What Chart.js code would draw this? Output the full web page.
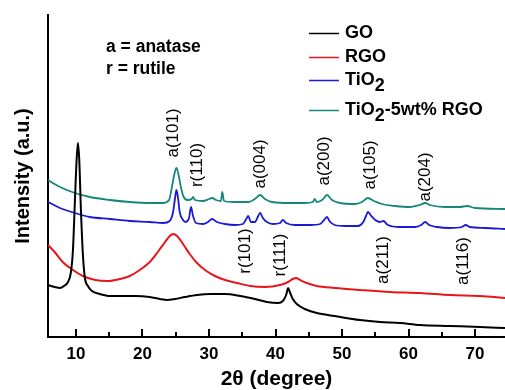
<!DOCTYPE html>
<html>
<head>
<meta charset="utf-8">
<title>XRD patterns</title>
<script src="https://cdn.jsdelivr.net/npm/chart.js@4/dist/chart.umd.min.js"></script>
<style>
  html, body { margin: 0; padding: 0; background: #fff; }
  #wrap { width: 505px; height: 390px; }
</style>
</head>
<body>
<div id="wrap"><canvas id="xrd" width="505" height="390"></canvas></div>
<script>
// 2theta (deg) / intensity (a.u.) pairs for each pattern
const goTheta = [5.8, 6.8, 7.6, 8.2, 8.8, 9.25, 9.55, 9.85, 10.1, 10.3, 10.5, 10.75, 11.05, 11.35, 11.8, 12.4, 13.6, 15.1, 17.1, 18.9, 21.1, 22.6, 23.7, 24.9, 26.4, 28.2, 30.2, 32.4, 34.7, 36.9, 38.7, 40.4, 41.1, 41.6, 41.9, 42.2, 42.6, 43.2, 44.4, 46.2, 48.9, 52.7, 55.7, 58.7, 61.7, 66.2, 70.75, 74.5];
const goInt = [52, 50, 49, 51, 55, 65, 87, 137, 177, 194, 177, 127, 82, 59, 51, 46, 43, 41, 41, 41, 40, 38, 37, 38, 40, 42, 43, 43, 41, 38, 35, 34, 36, 42, 49, 44, 38, 33, 28, 24, 21, 17, 15, 14, 12, 11, 10, 9];

const rgoTheta = [5.8, 6.8, 8.0, 9.55, 11.05, 12.9, 14.7, 16.6, 18.1, 19.6, 21.1, 22.3, 23.4, 24.1, 24.6, 25.2, 26.1, 27.1, 28.2, 29.4, 30.9, 32.4, 34.2, 36.2, 38.4, 40.7, 41.9, 42.6, 43.1, 43.7, 44.7, 46.2, 48.9, 52.7, 57.2, 61.7, 66.2, 70.75, 74.5];
const rgoInt = [92, 85, 75, 67, 61, 57, 56, 58, 61, 67, 75, 85, 95, 101, 103, 101, 93, 83, 74, 67, 61, 57, 54, 51, 50, 52, 55, 58, 59, 57, 54, 51, 49, 47, 45, 44, 42, 41, 39];

const tioTheta = [5.8, 7.6, 9.85, 12.1, 15.1, 18.1, 21.1, 23.1, 24.1, 24.6, 24.9, 25.1, 25.35, 25.6, 26.1, 26.5, 27.0, 27.3, 27.6, 28.05, 29.1, 29.85, 30.45, 31.2, 32.4, 33.9, 35.1, 35.6, 35.9, 36.3, 36.9, 37.4, 37.7, 38.1, 38.7, 39.6, 40.7, 41.1, 41.6, 42.9, 45.2, 46.7, 47.3, 47.75, 48.1, 48.9, 50.5, 52.4, 53.2, 53.6, 53.9, 54.4, 55.0, 55.7, 56.2, 56.9, 58.7, 61.0, 61.9, 62.5, 63.1, 64.3, 66.2, 68.0, 68.6, 69.2, 71.5, 74.5];
const tioInt = [135, 129, 124, 120, 118, 116, 115, 114, 116, 125, 139, 147, 139, 125, 117, 115, 119, 130, 121, 114, 113, 115, 118, 115, 113, 112, 113, 118, 121, 115, 115, 121, 124, 119, 115, 113, 114, 117, 114, 112, 112, 113, 117, 120, 116, 112, 111, 111, 115, 121, 125, 121, 117, 115, 116, 112, 110, 110, 112, 115, 112, 110, 109, 110, 112, 110, 109, 108];

const compTheta = [5.8, 7.6, 9.85, 12.1, 15.1, 18.1, 21.1, 23.1, 24.0, 24.4, 24.8, 25.1, 25.4, 25.8, 26.2, 26.8, 27.4, 27.6, 27.9, 29.1, 30.0, 30.45, 31.05, 31.8, 32.0, 32.25, 33.9, 35.9, 36.9, 37.7, 38.4, 39.5, 42.2, 44.4, 45.6, 45.9, 46.2, 47.0, 47.75, 48.5, 49.7, 52.0, 53.0, 53.9, 54.8, 56.0, 58.0, 60.2, 61.7, 62.5, 63.2, 65.5, 67.7, 68.8, 70.0, 74.5];
const compInt = [157, 150, 144, 140, 137, 135, 134, 134, 137, 149, 163, 169, 163, 149, 140, 137, 138, 140, 137, 136, 138, 139, 137, 136, 145, 136, 135, 135, 138, 142, 138, 135, 134, 134, 135, 138, 135, 137, 142, 137, 134, 133, 135, 139, 136, 133, 131, 130, 132, 134, 132, 130, 130, 131, 129, 128];

const seriesNames = ['GO', 'RGO', 'TiO2', 'TiO2-5wt% RGO'];
const seriesColors = ['#000000', '#e8161b', '#1a1ad6', '#16877a'];

// reflection labels: text, 2theta position, label centre height
const peakNames = ['a(101)', 'r(110)', 'a(004)', 'a(200)', 'a(105)', 'a(204)', 'r(101)', 'r(111)', 'a(211)', 'a(116)'];
const peakTheta = [24.6, 28.2, 37.7, 47.4, 54.2, 62.5, 35.4, 40.7, 56.2, 68.2];
const peakLevel = [204, 172, 173, 176, 172, 160, 86, 82, 77, 76];

const majorTicks = [10, 20, 30, 40, 50, 60, 70];
const minorTicks = [15, 25, 35, 45, 55, 65];

const FONT = '"Liberation Sans", Arial, sans-serif';

function pairs(xs, ys) {
  return xs.map((t, i) => ({ x: t, y: ys[i] }));
}

// draws "TiO2" with a lowered 2
function drawFormula(ctx, text, x, y, size) {
  const parts = text.split('TiO2');
  let cx = x;
  ctx.font = 'bold ' + size + 'px ' + FONT;
  parts.forEach((p, i) => {
    if (i > 0) {
      ctx.font = 'bold ' + size + 'px ' + FONT;
      ctx.fillText('TiO', cx, y);
      cx += ctx.measureText('TiO').width;
      ctx.font = 'bold ' + size + 'px ' + FONT;
      ctx.fillText('2', cx, y + size * 0.32);
      cx += ctx.measureText('2').width;
    }
    if (p) {
      ctx.fillText(p, cx, y);
      cx += ctx.measureText(p).width;
    }
  });
}

const xrdDecor = {
  id: 'xrdDecor',
  afterDraw(chart) {
    const { ctx, chartArea, scales: { x, y } } = chart;
    ctx.save();

    // inward tick marks on the 2theta axis
    ctx.strokeStyle = '#000';
    ctx.lineWidth = 2;
    const tick = (v, len) => {
      const px = Math.round(x.getPixelForValue(v));
      if (px > chartArea.right) return;
      ctx.beginPath();
      ctx.moveTo(px, chartArea.bottom);
      ctx.lineTo(px, chartArea.bottom - len);
      ctx.stroke();
    };
    majorTicks.forEach(v => tick(v, 8));
    minorTicks.forEach(v => tick(v, 5));

    // reflection labels
    ctx.fillStyle = '#000';
    ctx.font = '17px ' + FONT;
    ctx.textAlign = 'center';
    ctx.textBaseline = 'middle';
    peakNames.forEach((name, i) => {
      ctx.save();
      ctx.translate(x.getPixelForValue(peakTheta[i]), y.getPixelForValue(peakLevel[i]));
      ctx.rotate(-Math.PI / 2);
      ctx.fillText(name, 0, 0);
      ctx.restore();
    });

    // phase key
    ctx.textAlign = 'left';
    ctx.font = 'bold 17.5px ' + FONT;
    ctx.fillText('a = anatase', 106, 47);
    ctx.fillText('r = rutile', 106, 69);

    // legend
    const rows = [33, 57, 80, 110];
    chart.data.datasets.forEach((ds, i) => {
      ctx.strokeStyle = ds.borderColor;
      ctx.lineWidth = 1.5;
      ctx.beginPath();
      ctx.moveTo(309, rows[i] + 0.5);
      ctx.lineTo(339, rows[i] + 0.5);
      ctx.stroke();
      ctx.fillStyle = '#000';
      drawFormula(ctx, ds.label, 345, rows[i], 18);
    });
    ctx.restore();
  }
};

const ctx = document.getElementById('xrd').getContext('2d');
new Chart(ctx, {
  type: 'line',
  data: {
    datasets: [
      { label: seriesNames[0], data: pairs(goTheta, goInt), borderColor: seriesColors[0], borderWidth: 2 },
      { label: seriesNames[1], data: pairs(rgoTheta, rgoInt), borderColor: seriesColors[1], borderWidth: 2 },
      { label: seriesNames[2], data: pairs(tioTheta, tioInt), borderColor: seriesColors[2], borderWidth: 1.8 },
      { label: seriesNames[3], data: pairs(compTheta, compInt), borderColor: seriesColors[3], borderWidth: 1.8 }
    ]
  },
  options: {
    responsive: false,
    animation: false,
    devicePixelRatio: 1,
    layout: { padding: { top: 15, right: 0, bottom: 0, left: 0 } },
    elements: {
      point: { radius: 0 },
      line: { cubicInterpolationMode: 'monotone', fill: false }
    },
    plugins: { legend: { display: false }, tooltip: { enabled: false } },
    scales: {
      x: {
        type: 'linear',
        min: 5.8,
        max: 74.5,
        afterBuildTicks: s => { s.ticks = majorTicks.map(v => ({ value: v })); },
        afterFit: s => { s.height = 53; },
        grid: { display: false, drawTicks: false },
        border: { display: true, color: '#000', width: 2 },
        ticks: {
          autoSkip: false,
          maxRotation: 0,
          padding: 7,
          color: '#000',
          font: { family: FONT, size: 17, weight: 'bold' }
        },
        title: {
          display: true,
          text: '2θ (degree)',
          color: '#000',
          font: { family: FONT, size: 21, weight: 'bold', lineHeight: 1 },
          padding: { top: 0, bottom: 0 }
        }
      },
      y: {
        type: 'linear',
        min: 0,
        max: 322,
        afterFit: s => { s.width = 48; },
        grid: { display: false, drawTicks: false },
        border: { display: true, color: '#000', width: 2 },
        ticks: { display: false },
        title: {
          display: true,
          text: 'Intensity (a.u.)',
          color: '#000',
          font: { family: FONT, size: 20, weight: 'bold', lineHeight: 1.2 },
          padding: { top: 11, bottom: 0 }
        }
      }
    }
  },
  plugins: [xrdDecor]
});
</script>
</body>
</html>
